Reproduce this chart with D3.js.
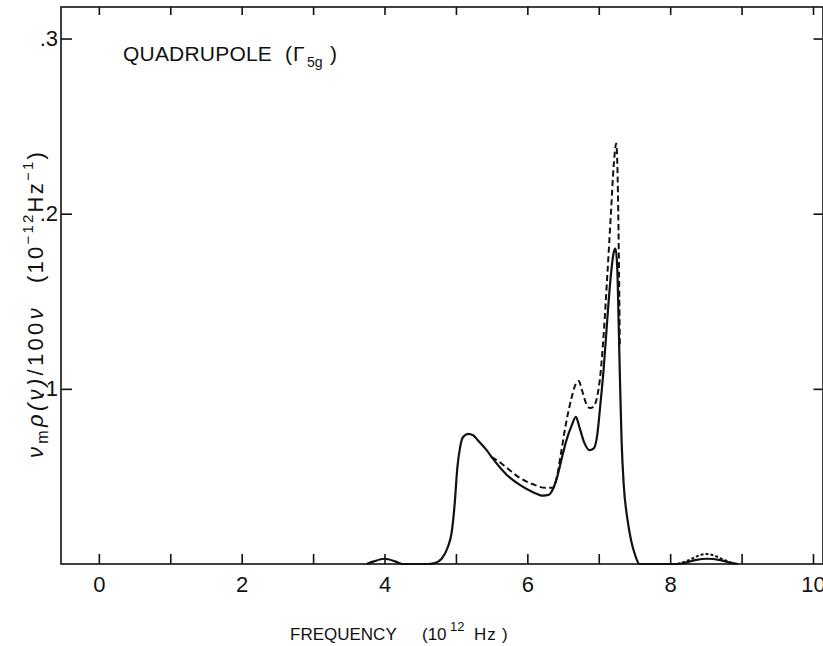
<!DOCTYPE html>
<html>
<head>
<meta charset="utf-8">
<script src="https://cdn.jsdelivr.net/npm/d3@7"></script>
<style>
  body { margin: 0; background: #fff; }
  svg { display: block; font-family: "Liberation Sans", Arial, sans-serif; }
</style>
</head>
<body>
<svg id="chart"></svg>
<script>
// frequency (10^12 Hz) / value, solid curve
const solidFreq = [3.75, 3.85, 4.0, 4.15, 4.25, 4.6, 4.7, 4.8, 4.88, 4.94, 4.98, 5.02, 5.06, 5.10, 5.17, 5.24, 5.30, 5.43, 5.52, 5.71, 5.90, 6.08, 6.22, 6.30, 6.36, 6.42, 6.48, 6.55, 6.62, 6.68, 6.73, 6.80, 6.87, 6.93, 6.98, 7.02, 7.07, 7.12, 7.17, 7.21, 7.235, 7.26, 7.28, 7.30, 7.32, 7.35, 7.40, 7.45, 7.51, 7.57, 8.1, 8.2, 8.35, 8.52, 8.7, 8.85, 8.95];
const solidVal  = [0, 0.0015, 0.003, 0.0015, 0, 0, 0.0005, 0.003, 0.009, 0.018, 0.033, 0.055, 0.067, 0.0725, 0.0743, 0.0735, 0.071, 0.065, 0.060, 0.051, 0.045, 0.041, 0.039, 0.0395, 0.043, 0.050, 0.060, 0.071, 0.079, 0.084, 0.078, 0.069, 0.065, 0.066, 0.074, 0.090, 0.112, 0.140, 0.165, 0.178, 0.180, 0.168, 0.135, 0.100, 0.070, 0.045, 0.026, 0.014, 0.005, 0, 0, 0.0006, 0.0022, 0.003, 0.0022, 0.0006, 0];

// dashed curve, main part and the small bump near 8.5
const dashFreq = [5.50, 5.60, 5.71, 5.90, 6.08, 6.25, 6.36, 6.41, 6.47, 6.54, 6.62, 6.68, 6.72, 6.76, 6.82, 6.88, 6.93, 6.98, 7.02, 7.07, 7.12, 7.17, 7.21, 7.245, 7.265, 7.28, 7.295];
const dashVal  = [0.061, 0.0585, 0.055, 0.049, 0.0455, 0.0435, 0.0435, 0.049, 0.063, 0.080, 0.095, 0.103, 0.1045, 0.100, 0.092, 0.089, 0.090, 0.096, 0.107, 0.132, 0.165, 0.200, 0.228, 0.240, 0.220, 0.180, 0.125];
const bumpFreq = [8.1, 8.25, 8.4, 8.5, 8.6, 8.75, 8.9];
const bumpVal  = [0, 0.002, 0.0048, 0.0057, 0.005, 0.0025, 0];

const xTicks = [0, 1, 2, 3, 4, 5, 6, 7, 8, 9, 10];
const xLabels = [0, 2, 4, 6, 8, 10];
const yTicks = [0.1, 0.2, 0.3];
const yLabels = ['.1', '.2', '.3'];

const W = 823, H = 646;
const pLeft = 61, pRight = 823, pTop = 7, pBottom = 564;

const svg = d3.select('#chart').attr('width', W).attr('height', H);

const x = d3.scaleLinear().domain([-0.53, 10.14]).range([pLeft, pRight]);
const y = d3.scaleLinear().domain([0, 0.318]).range([pBottom, pTop]);

// spread the letters of a text so it covers the given length
function fit(sel, target) {
  const n = sel.node();
  const extra = (target - n.getComputedTextLength()) / n.getNumberOfChars();
  sel.attr('letter-spacing', extra);
}

// axes
const xb = d3.axisBottom(x).tickValues(xTicks).tickSizeInner(-10).tickSizeOuter(0).tickPadding(12)
  .tickFormat(d => xLabels.includes(d) ? d : '');
const xt = d3.axisTop(x).tickValues(xTicks).tickSizeInner(-8).tickSizeOuter(0).tickFormat('');
const yl = d3.axisLeft(y).tickValues(yTicks).tickSizeInner(-11).tickSizeOuter(0).tickPadding(3)
  .tickFormat((d, i) => yLabels[i]);
const yr = d3.axisRight(y).tickValues(yTicks).tickSizeInner(-9).tickSizeOuter(0).tickFormat('');

svg.append('g').attr('transform', `translate(0,${pBottom})`).call(xb);
svg.append('g').attr('transform', `translate(0,${pTop})`).call(xt);
svg.append('g').attr('transform', `translate(${pLeft},0)`).call(yl);
svg.append('g').attr('transform', `translate(${pRight - 0.5},0)`).call(yr);
svg.selectAll('.domain').remove();
svg.selectAll('.tick line').attr('stroke', '#111').attr('stroke-width', 1.6);
svg.selectAll('.tick text').attr('font-family', '"Liberation Sans", Arial, sans-serif').attr('font-size', 22).attr('fill', '#111');

// frame
svg.append('rect').attr('x', pLeft).attr('y', pTop).attr('width', pRight - pLeft).attr('height', pBottom - pTop)
  .attr('fill', 'none').attr('stroke', '#111').attr('stroke-width', 1.6);

svg.append('clipPath').attr('id', 'clip').append('rect')
  .attr('x', pLeft).attr('y', pTop).attr('width', pRight - pLeft).attr('height', pBottom - pTop + 2);

const line = d3.line().x(d => x(d[0])).y(d => y(d[1])).curve(d3.curveMonotoneX);
const plot = svg.append('g').attr('clip-path', 'url(#clip)');

plot.append('path').attr('d', line(d3.zip(solidFreq, solidVal)))
  .attr('fill', 'none').attr('stroke', '#111').attr('stroke-width', 2.2);
plot.append('path').attr('d', line(d3.zip(dashFreq, dashVal)))
  .attr('fill', 'none').attr('stroke', '#111').attr('stroke-width', 2).attr('stroke-dasharray', '6,3.5');
plot.append('path').attr('d', line(d3.zip(bumpFreq, bumpVal)))
  .attr('fill', 'none').attr('stroke', '#111').attr('stroke-width', 2).attr('stroke-dasharray', '3,2');

// panel label
const lab = svg.append('text').attr('y', 61).attr('font-size', 21).attr('fill', '#111');
lab.append('tspan').attr('x', 123).attr('letter-spacing', 0.2).text('QUADRUPOLE');
lab.append('tspan').attr('x', 285).text('(');
lab.append('tspan').attr('x', 293).text('Γ');
lab.append('tspan').attr('x', 307).attr('dy', 6).attr('font-size', 14).text('5g');
lab.append('tspan').attr('x', 330).attr('dy', -6).text(')');

// x title
svg.append('text').attr('x', 290).attr('y', 640).attr('font-size', 17).attr('fill', '#111').text('FREQUENCY');
const xt2 = svg.append('text').attr('y', 640).attr('font-size', 17).attr('fill', '#111');
xt2.append('tspan').attr('x', 422).text('(10');
xt2.append('tspan').attr('x', 450).attr('dy', -9).attr('font-size', 13).text('12');
xt2.append('tspan').attr('x', 474).attr('dy', 9).attr('letter-spacing', 1).text('Hz');
xt2.append('tspan').attr('x', 502).text(')');

// y title, in two runs: the quantity from below, the units ending at the top
const ya = svg.append('text').attr('transform', 'translate(43,458) rotate(-90)')
  .attr('font-size', 22).attr('fill', '#111');
ya.append('tspan').attr('font-style', 'italic').text('ν');
ya.append('tspan').attr('dy', 5).attr('font-size', 16).text('m');
ya.append('tspan').attr('dy', -5).attr('font-style', 'italic').text('ρ(ν)');
ya.append('tspan').text('/100');
ya.append('tspan').attr('font-style', 'italic').text('ν');
fit(ya, 153);

const yb = svg.append('text').attr('transform', 'translate(43,150) rotate(-90)')
  .attr('text-anchor', 'end').attr('font-size', 22).attr('fill', '#111');
yb.append('tspan').text('(10');
yb.append('tspan').attr('dy', -10).attr('font-size', 15).text('−12');
yb.append('tspan').attr('dy', 10).text('Hz');
yb.append('tspan').attr('dy', -10).attr('font-size', 15).text('−1');
yb.append('tspan').attr('dy', 10).text(')');
fit(yb, 133);
</script>
</body>
</html>
